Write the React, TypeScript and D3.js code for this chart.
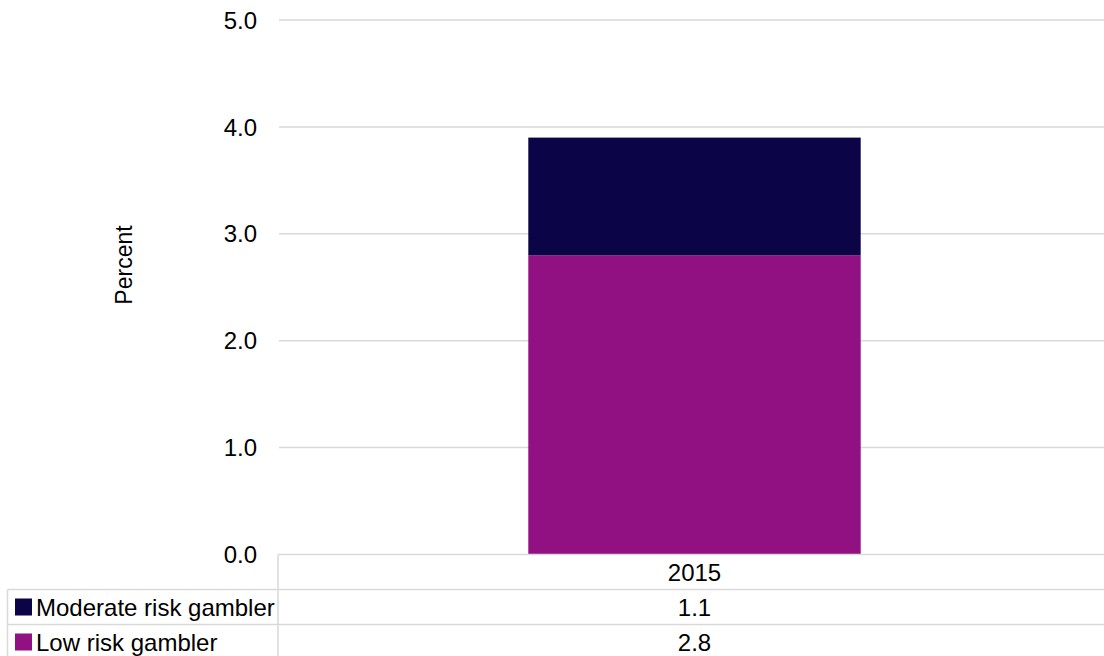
import React from "react";
import * as d3 from "d3";

// Problem-gambling prevalence, stacked by risk category
const categories = ["2015"];
const lowRisk = [2.8];
const moderateRisk = [1.1];
const seriesKeys = ["low", "moderate"];
const seriesLabels: Record<string, string> = {
  low: "Low risk gambler",
  moderate: "Moderate risk gambler",
};
const seriesColors: Record<string, string> = {
  low: "#921182",
  moderate: "#0b0547",
};
const yTicks = [0, 1, 2, 3, 4, 5];
const tableRows = ["moderate", "low"];

const W = 1104;
const H = 656;
const FONT = "'Liberation Sans', Arial, sans-serif";
const GRID = "#d9d9d9";

export default function App() {
  const rows = categories.map((c, i) => ({
    category: c,
    low: lowRisk[i],
    moderate: moderateRisk[i],
  }));
  const stacked = d3.stack<any>().keys(seriesKeys)(rows);

  const plotLeft = 279;
  const plotRight = 1110;
  const y = d3.scaleLinear().domain([0, 5]).range([554.5, 20]);
  const x = d3
    .scaleBand<string>()
    .domain(categories)
    .range([plotLeft, plotRight])
    .paddingInner(0.6)
    .paddingOuter(0.3);

  const rowTop = y(0);
  const rowH = 35;
  const legendLeft = 7.5;
  const fontSize = 24;

  const valueFor: Record<string, number[]> = { low: lowRisk, moderate: moderateRisk };

  return (
    <div style={{ position: "absolute", left: 0, top: 0 }}>
      <svg width={W} height={H} style={{ display: "block", fontFamily: FONT }}>
        <rect x={0} y={0} width={W} height={H} fill="#fff" />
        {/* gridlines and y tick labels */}
        {yTicks.map((t) => (
          <g key={t}>
            {t > 0 && (
              <line x1={plotLeft} x2={W} y1={y(t)} y2={y(t)} stroke={GRID} strokeWidth={1.5} />
            )}
            <text
              x={257}
              y={y(t)}
              dy="0.36em"
              textAnchor="end"
              fontSize={fontSize}
              fill="#000"
            >
              {d3.format(".1f")(t)}
            </text>
          </g>
        ))}
        <text
          transform={`translate(${132},${265}) rotate(-90)`}
          textAnchor="middle"
          fontSize={23}
          fill="#000"
        >
          Percent
        </text>

        {/* stacked bars */}
        {stacked.map((s) =>
          s.map((d, i) => (
            <rect
              key={`${s.key}-${i}`}
              x={x(categories[i])}
              width={x.bandwidth()}
              y={y(d[1])}
              height={y(d[0]) - y(d[1])}
              fill={seriesColors[s.key]}
            />
          ))
        )}

        {/* data table */}
        <line x1={plotLeft - 1} x2={W} y1={rowTop} y2={rowTop} stroke={GRID} strokeWidth={1.5} />
        {tableRows.map((_, r) => (
          <line
            key={r}
            x1={legendLeft}
            x2={W}
            y1={rowTop + rowH * (r + 1)}
            y2={rowTop + rowH * (r + 1)}
            stroke={GRID}
            strokeWidth={1.5}
          />
        ))}
        <line x1={plotLeft - 1} x2={plotLeft - 1} y1={rowTop} y2={H} stroke={GRID} strokeWidth={1.5} />
        <line x1={legendLeft} x2={legendLeft} y1={rowTop + rowH} y2={H} stroke={GRID} strokeWidth={1.5} />

        {categories.map((c) => (
          <text
            key={c}
            x={(x(c) ?? 0) + x.bandwidth() / 2}
            y={rowTop + rowH / 2}
            dy="0.36em"
            textAnchor="middle"
            fontSize={fontSize}
            fill="#000"
          >
            {c}
          </text>
        ))}

        {tableRows.map((key, r) => {
          const cy = rowTop + rowH * (r + 1) + rowH / 2;
          return (
            <g key={key}>
              <rect x={15} y={cy - 8.5} width={17} height={17} fill={seriesColors[key]} />
              <text x={36} y={cy} dy="0.36em" fontSize={fontSize} fill="#000">
                {seriesLabels[key]}
              </text>
              {categories.map((c, i) => (
                <text
                  key={c}
                  x={(x(c) ?? 0) + x.bandwidth() / 2}
                  y={cy}
                  dy="0.36em"
                  textAnchor="middle"
                  fontSize={fontSize}
                  fill="#000"
                >
                  {d3.format(".1f")(valueFor[key][i])}
                </text>
              ))}
            </g>
          );
        })}
      </svg>
    </div>
  );
}
